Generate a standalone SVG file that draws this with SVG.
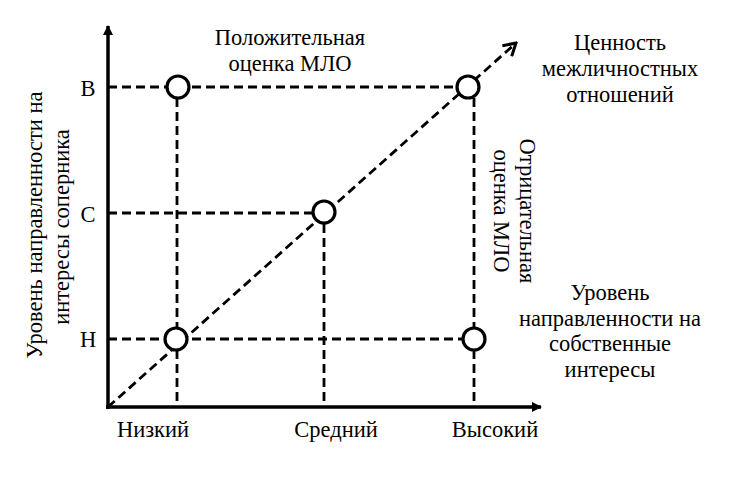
<svg xmlns="http://www.w3.org/2000/svg" width="729" height="478" viewBox="0 0 729 478">
<style>
text{font-family:"Liberation Serif","Times New Roman",serif;font-size:22.5px;fill:#000}
.axis{stroke:#000;stroke-width:3.5;fill:none}
.dash{stroke:#000;stroke-width:2.8;fill:none;stroke-dasharray:9 5}
.node circle{fill:#fff;stroke:#000;stroke-width:3.2}
.m{text-anchor:middle}
</style>
<defs>
<marker id="ah" markerWidth="10" markerHeight="10" refX="9" refY="5" orient="auto" markerUnits="userSpaceOnUse" viewBox="0 0 10 10">
<path d="M0,0 L10,5 L0,10 Z" fill="#000"/>
</marker>
<marker id="oh" markerWidth="16" markerHeight="16" refX="14" refY="8" orient="auto" markerUnits="userSpaceOnUse" viewBox="0 0 16 16">
<path d="M2,1 L14,8 L2,15" fill="none" stroke="#000" stroke-width="3"/>
</marker>
</defs>
<g id="connectors">
<line class="dash" x1="108" y1="87" x2="457" y2="87"/>
<line class="dash" x1="108" y1="213" x2="313" y2="213"/>
<line class="dash" x1="108" y1="339" x2="463" y2="339"/>
<line class="dash" x1="177" y1="98" x2="177" y2="405"/>
<line class="dash" x1="324" y1="224" x2="324" y2="405"/>
<line class="dash" x1="474" y1="98" x2="474" y2="405"/>
<line class="dash" x1="108" y1="407" x2="516" y2="43" marker-end="url(#oh)"/>
<line class="axis" x1="108" y1="409" x2="108" y2="26" marker-end="url(#ah)"/>
<line class="axis" x1="106" y1="407" x2="541" y2="407" marker-end="url(#ah)"/>
</g>
<g id="node-b-low" class="node"><circle cx="178" cy="87" r="11"/></g>
<g id="node-b-high" class="node"><circle cx="468" cy="87" r="11"/></g>
<g id="node-c-mid" class="node"><circle cx="324" cy="212" r="11"/></g>
<g id="node-h-low" class="node"><circle cx="176" cy="339" r="11"/></g>
<g id="node-h-high" class="node"><circle cx="474" cy="339" r="11"/></g>
<g id="labels">
<text x="88" y="96" class="m">В</text>
<text x="88" y="222" class="m">С</text>
<text x="88" y="347" class="m">Н</text>
<text x="153" y="437" class="m">Низкий</text>
<text x="336" y="437" class="m">Средний</text>
<text x="495" y="437" class="m">Высокий</text>
<text x="290" y="45" class="m">Положительная</text>
<text x="290" y="71" class="m">оценка МЛО</text>
<text x="620" y="50" class="m">Ценность</text>
<text x="620" y="76" class="m">межличностных</text>
<text x="620" y="102" class="m">отношений</text>
<text x="610" y="300" class="m">Уровень</text>
<text x="610" y="326" class="m">направленности на</text>
<text x="610" y="351" class="m">собственные</text>
<text x="610" y="377" class="m">интересы</text>
<text class="m" transform="translate(520,211) rotate(90)">Отрицательная</text>
<text class="m" transform="translate(494,211) rotate(90)">оценка МЛО</text>
<text class="m" transform="translate(42,225) rotate(-90)">Уровень направленности на</text>
<text class="m" transform="translate(69,227) rotate(-90)">интересы соперника</text>
</g>
</svg>
